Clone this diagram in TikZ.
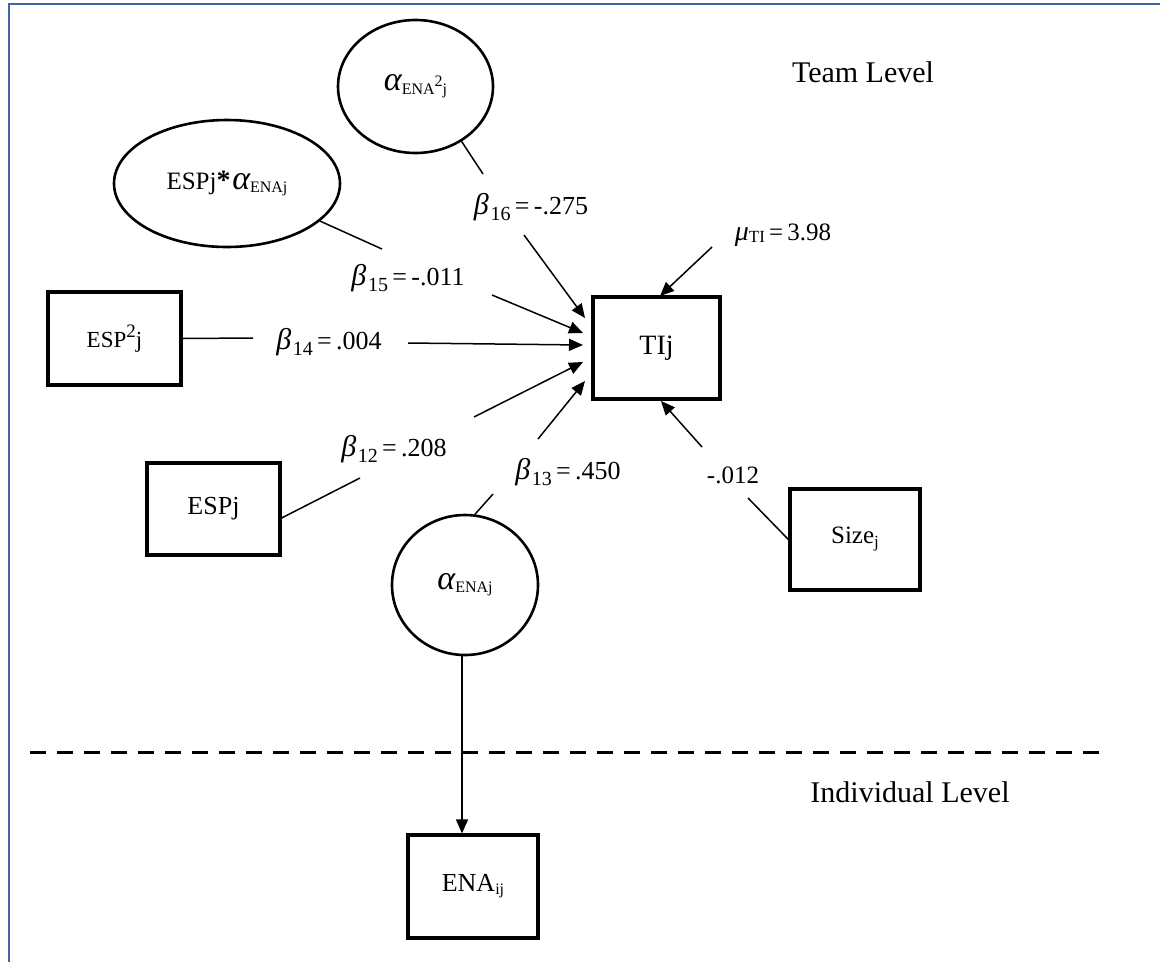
\documentclass[tikz,border=0pt]{standalone}
\usepackage{fontspec}
\setmainfont{Liberation Serif}
\usetikzlibrary{arrows.meta,shapes.geometric}
\newcommand{\fs}[1]{\fontsize{#1}{#1}\selectfont}
\newcommand{\galpha}{{\fs{34}\itshape α}}
\newcommand{\subsm}[2][-3pt]{{\fs{16}\raisebox{#1}{#2}}}
\newcommand{\blab}[2]{{\fs{30}\itshape β}\,{\fs{20}\raisebox{-6pt}{#1}}{\fs{26}\,=\,#2}}
\definecolor{frameblue}{RGB}{66,100,160}
\begin{document}
\begin{tikzpicture}[x=1pt,y=-1pt,
  boxn/.style={draw,line width=3.2pt,rectangle,inner sep=0pt},
  ell/.style={draw,line width=2.6pt,ellipse,inner sep=0pt},
  con/.style={line width=1.5pt},
  arr/.style={line width=1.5pt,-{Triangle[length=14pt,width=12pt]}},
  lbl/.style={inner sep=0pt}]
\useasboundingbox (0,0) rectangle (1160,962);
\fill[white] (0,0) rectangle (1160,962);
\coordinate (fbl) at (9,962);
\coordinate (ftl) at (9,4);
\coordinate (ftr) at (1160,4);
\draw[frameblue,line width=2.5pt] (fbl) -- (ftl) -- (ftr);

% shapes
\node[ell,minimum width=155pt,minimum height=133pt] (e16) at (415.5,86.5)
  {\galpha{\fs{16}\raisebox{-4pt}{ENA\raisebox{8pt}{2}j}}};
\node[ell,minimum width=226pt,minimum height=127pt] (e15) at (227,183.5)
  {{\fs{25}ESPj}{\fs{28}\bfseries *}\,\galpha\subsm{ENAj}};
\node[boxn,minimum width=133pt,minimum height=93pt] (esp2) at (114.5,338.5)
  {{\fs{23}ESP\raisebox{10pt}{\fs{19}2}j}};
\node[boxn,minimum width=133pt,minimum height=92pt] (espj) at (213.5,509)
  {{\fs{26}ESPj}};
\node[boxn,minimum width=127pt,minimum height=102pt] (ti) at (656.5,348)
  {{\fs{28}TIj}};
\node[boxn,minimum width=130pt,minimum height=101pt] (size) at (855,539.5)
  {{\fs{25}Size}{\fs{17}\raisebox{-4pt}{j}}};
\node[ell,minimum width=146pt,minimum height=140pt] (circ) at (465,585)
  {\galpha\subsm{ENAj}};
\node[boxn,minimum width=130pt,minimum height=103pt] (ena) at (473,886.5)
  {{\fs{26}ENA}{\fs{16}\raisebox{-3pt}{ij}}};

% labels
\node[lbl] (l16) at (531,207) {\blab{16}{-.275}};
\node[lbl] (l15) at (408,278) {\blab{15}{-.011}};
\node[lbl] (l14) at (329,342) {\blab{14}{.004}};
\node[lbl] (l12) at (394,449) {\blab{12}{.208}};
\node[lbl] (l13) at (568,472) {\blab{13}{.450}};
\node[lbl] (lsz) at (733,475) {{\fs{25}-.012}};
\node[lbl] (lmu) at (783,235) {{\fs{28}\itshape μ}{\fs{17}\raisebox{-2pt}{TI}}{\fs{25}\,=\,3.98}};
\node[lbl] (team) at (863,72) {{\fs{30}Team Level}};
\node[lbl] (indiv) at (910,792) {{\fs{30}Individual Level}};

% connector points
\coordinate (c16a) at (483,174); \coordinate (c16b) at (524,235); \coordinate (t16) at (585,318);
\coordinate (c15a) at (382,249); \coordinate (c15b) at (492,295); \coordinate (t15) at (583,333);
\coordinate (c14a) at (253,338); \coordinate (c14b) at (408,343); \coordinate (t14) at (583,345);
\coordinate (c12a) at (360,478); \coordinate (c12b) at (474,417); \coordinate (t12) at (583,362);
\coordinate (c13a) at (493,494); \coordinate (c13b) at (538,439); \coordinate (t13) at (585,381);
\coordinate (csa) at (748,498); \coordinate (csb) at (702,447); \coordinate (tsz) at (661,401);
\coordinate (cmu) at (712,247); \coordinate (tmu) at (660,296);

\draw[con] (e16.-50) -- (c16a);
\draw[arr] (c16b) -- (t16);
\draw[con] (e15.-22) -- (c15a);
\draw[arr] (c15b) -- (t15);
\draw[con] (esp2.east) -- (c14a);
\draw[arr] (c14b) -- (t14);
\draw[con] ([yshift=-9pt]espj.east) -- (c12a);
\draw[arr] (c12b) -- (t12);
\draw[con] (circ.82) -- (c13a);
\draw[arr] (c13b) -- (t13);
\draw[con] (size.west) -- (csa);
\draw[arr] (csb) -- (tsz);
\draw[arr] (cmu) -- (tmu);
\draw[arr] ([xshift=-3pt]circ.south) -- ([xshift=-3pt]circ.south |- ena.north);

\coordinate (dl) at (30,752);
\coordinate (dr) at (1102,752);
\draw[line width=3pt,dash pattern=on 16pt off 11pt] (dl) -- (dr);
\end{tikzpicture}
\end{document}
